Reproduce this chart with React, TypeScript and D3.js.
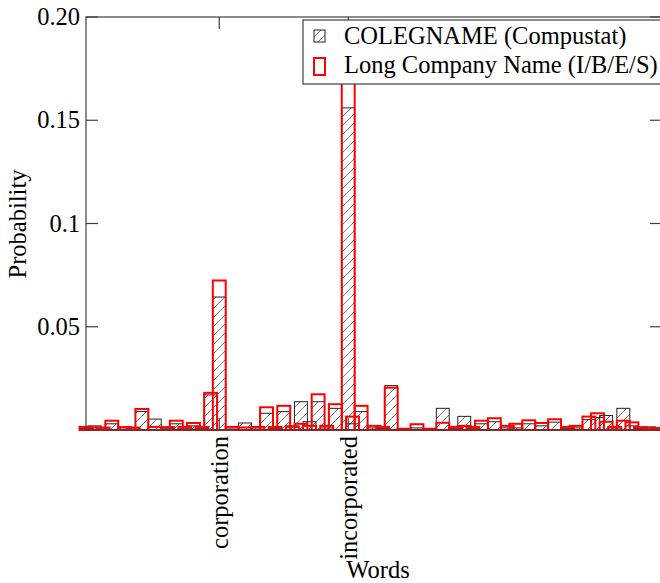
import React from 'react'
import * as d3 from 'd3'

// word rank (slot on the x axis) and the probability of each word in both name lists
const wordSlots = [
  0, 2, 4, 6, 9, 11, 13, 16, 19, 21, 23, 25, 27, 29, 31, 34, 37, 40, 42, 44, 46, 48, 50, 52, 54, 56, 58,
  61, 62, 64, 67, 69, 71, 74, 77, 80, 83, 86, 88, 90, 92, 95, 98, 100, 103, 106, 109, 112, 114, 117,
  119, 121, 123, 125, 127, 129, 131, 133,
]
const colegname = [
  0.0008, 0.002, 0.0005, 0.003, 0.001, 0.0005, 0.009, 0.0053, 0.0006, 0.003, 0.0006, 0.002, 0.0008,
  0.017, 0.0644, 0.0005, 0.0034, 0.001, 0.0081, 0.0008, 0.0089, 0.002, 0.0137, 0.004, 0.0137, 0.001,
  0.0105, 0.156, 0.003, 0.0089, 0.001, 0.0008, 0.0215, 0.0003, 0.001, 0.0003, 0.0105, 0.0008, 0.0066,
  0.0008, 0.003, 0.004, 0.001, 0.001, 0.003, 0.002, 0.0038, 0.0008, 0.001, 0.005, 0.006, 0.007, 0.001,
  0.0105, 0.002, 0.0008, 0.0015, 0.001,
]
const longName = [
  0.0015, 0.0012, 0.0012, 0.0045, 0.0014, 0.0012, 0.0102, 0.0015, 0.0014, 0.0045, 0.0015, 0.0034, 0.0015,
  0.018, 0.0724, 0.0015, 0.0012, 0.0015, 0.011, 0.0015, 0.0117, 0.0015, 0.003, 0.002, 0.0173, 0.002,
  0.0125, 0.172, 0.0065, 0.0117, 0.002, 0.0015, 0.0205, 0.0006, 0.0028, 0.0006, 0.0035, 0.0015, 0.002,
  0.0015, 0.0045, 0.0057, 0.002, 0.003, 0.0047, 0.0034, 0.0052, 0.0015, 0.002, 0.0065, 0.0081, 0.004,
  0.0015, 0.0045, 0.0037, 0.0014, 0.001, 0.001,
]
const slotCount = 134

const tickWords = ['corporation', 'incorporated']
const tickWordSlots = [31, 61]
const yTicks = [0.05, 0.1, 0.15, 0.2]
const yTickLabels = ['0.05', '0.1', '0.15', '0.20']
const legendLabels = ['COLEGNAME (Compustat)', 'Long Company Name (I/B/E/S)']

const W = 660
const H = 583
const left = 86
const right = 662
const top = 17
const bottom = 430
const font = '"Liberation Serif", "Times New Roman", serif'
const frame = '#404040'
const tick = 12
const fs = 24.5

const App = () => {
  const x = d3.scaleLinear().domain([0, slotCount]).range([left, right])
  const y = d3.scaleLinear().domain([0, 0.2]).range([bottom, top])
  const bw = x(3) - x(0)

  return (
    <svg
      width={W}
      height={H}
      style={{ position: 'absolute', left: 0, top: 0, background: '#fff' }}
      fontFamily={font}
    >
      <defs>
        <pattern id='hatch' patternUnits='userSpaceOnUse' width={9} height={9}>
          <path d='M0,9 L9,0 M-2,2 L2,-2 M7,11 L11,7' stroke='#555' strokeWidth={0.8} />
        </pattern>
      </defs>

      {/* COLEGNAME bars, hatched */}
      {wordSlots.map((s, i) => (
        <rect
          key={'b' + i}
          x={x(s) - bw / 2}
          y={y(colegname[i])}
          width={bw}
          height={bottom - y(colegname[i])}
          fill='url(#hatch)'
          stroke='#222'
          strokeWidth={1}
        />
      ))}
      {/* long company name bars, red outline */}
      {wordSlots.map((s, i) => (
        <rect
          key={'r' + i}
          x={x(s) - bw / 2}
          y={y(longName[i])}
          width={bw}
          height={bottom - y(longName[i])}
          fill='none'
          stroke='#ff0000'
          strokeWidth={2}
        />
      ))}

      {/* frame */}
      <rect x={left} y={top} width={right - left} height={bottom - top} fill='none' stroke={frame} strokeWidth={1.2} />

      {/* y ticks */}
      {yTicks.map((t, i) => (
        <g key={'y' + i}>
          <line x1={left} x2={left + tick} y1={y(t)} y2={y(t)} stroke={frame} strokeWidth={1.2} />
          <line x1={right} x2={right - tick} y1={y(t)} y2={y(t)} stroke={frame} strokeWidth={1.2} />
          <text x={80} y={y(t)} dy='0.33em' textAnchor='end' fontSize={fs}>
            {yTickLabels[i]}
          </text>
        </g>
      ))}

      {/* x ticks */}
      {tickWordSlots.map((s, i) => (
        <g key={'x' + i}>
          <line x1={x(s)} x2={x(s)} y1={bottom} y2={bottom - tick} stroke={frame} strokeWidth={1.2} />
          <line x1={x(s)} x2={x(s)} y1={top} y2={top + tick} stroke={frame} strokeWidth={1.2} />
          <text transform={`translate(${x(s) + 9},436) rotate(-90)`} textAnchor='end' fontSize={fs}>
            {tickWords[i]}
          </text>
        </g>
      ))}

      <text transform='translate(26,224) rotate(-90)' textAnchor='middle' fontSize={fs}>
        Probability
      </text>
      <text x={378} y={578} textAnchor='middle' fontSize={fs}>
        Words
      </text>

      {/* legend */}
      <g>
        <rect x={303} y={20} width={400} height={64} fill='#fff' stroke={frame} strokeWidth={1.2} />
        <rect x={314} y={30} width={11} height={12} fill='url(#hatch)' stroke='#222' strokeWidth={1} />
        <text x={344} y={44} fontSize={fs}>
          {legendLabels[0]}
        </text>
        <rect x={314} y={58} width={11} height={17} fill='none' stroke='#ff0000' strokeWidth={2} />
        <text x={344} y={73} fontSize={fs}>
          {legendLabels[1]}
        </text>
      </g>
    </svg>
  )
}

export default App
